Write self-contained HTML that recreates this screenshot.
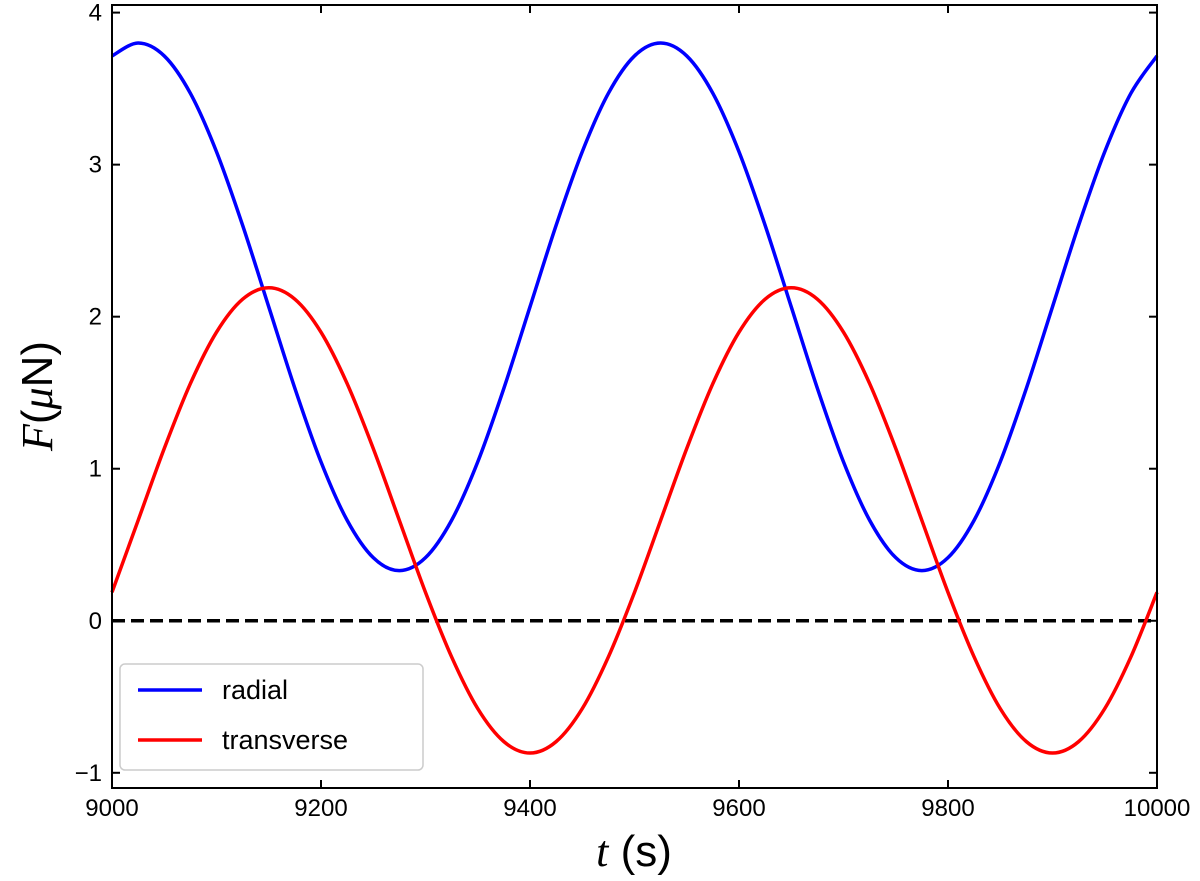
<!DOCTYPE html>
<html><head><meta charset="utf-8"><style>
body{margin:0;background:#fff;}
svg{display:block;font-family:"Liberation Sans","DejaVu Sans",sans-serif;}
</style></head><body>
<svg id="chart" width="1200" height="881" viewBox="0 0 1200 881">
<g id="plot"></g>
</svg>
<script>
const times = [9000,9025,9050,9075,9100,9125,9150,9175,9200,9225,9250,9275,9300,9325,9350,9375,9400,9425,9450,9475,9500,9525,9550,9575,9600,9625,9650,9675,9700,9725,9750,9775,9800,9825,9850,9875,9900,9925,9950,9975,10000];
const radial = [3.715,3.80,3.715,3.469,3.085,2.601,2.065,1.529,1.045,0.661,0.415,0.33,0.415,0.661,1.045,1.529,2.065,2.601,3.085,3.469,3.715,3.80,3.715,3.469,3.085,2.601,2.065,1.529,1.045,0.661,0.415,0.33,0.415,0.661,1.045,1.529,2.065,2.601,3.085,3.469,3.715];
const transverse = [0.187,0.66,1.133,1.56,1.898,2.115,2.19,2.115,1.898,1.56,1.133,0.66,0.187,-0.238,-0.578,-0.795,-0.87,-0.795,-0.578,-0.238,0.187,0.66,1.133,1.56,1.898,2.115,2.19,2.115,1.898,1.56,1.133,0.66,0.187,-0.238,-0.578,-0.795,-0.87,-0.795,-0.578,-0.238,0.187];
const xTicks = [9000,9200,9400,9600,9800,10000];
const yTicks = [-1,0,1,2,3,4];
const yTickLabels = ["\u22121","0","1","2","3","4"];

const L=112,R=1157,T=5,B=788;
const xMin=9000,xMax=10000,yMin=-1.1,yMax=4.05;
function xs(v){return L+(v-xMin)/(xMax-xMin)*(R-L);}
function ys(v){return B-(v-yMin)/(yMax-yMin)*(B-T);}
const NS="http://www.w3.org/2000/svg";
const g=document.getElementById('plot');
function mk(tag,attrs,parent){const e=document.createElementNS(NS,tag);for(const k in attrs)e.setAttribute(k,attrs[k]);(parent||g).appendChild(e);return e;}
function smoothPath(xv,yv){
  const p=xv.map((x,i)=>[xs(x),ys(yv[i])]);
  let d="M"+p[0][0]+","+p[0][1];
  for(let i=0;i<p.length-1;i++){
    const p0=p[Math.max(0,i-1)],p1=p[i],p2=p[i+1],p3=p[Math.min(p.length-1,i+2)];
    const c1=[p1[0]+(p2[0]-p0[0])/6,p1[1]+(p2[1]-p0[1])/6];
    const c2=[p2[0]-(p3[0]-p1[0])/6,p2[1]-(p3[1]-p1[1])/6];
    d+=" C"+c1[0]+","+c1[1]+" "+c2[0]+","+c2[1]+" "+p2[0]+","+p2[1];
  }
  return d;
}
const z=mk('line',{x1:L,x2:R,y1:ys(0),y2:ys(0),stroke:'#000','stroke-width':3.5,'stroke-dasharray':'13,6'});


const rp=mk('path',{d:smoothPath(times,radial),fill:'none',stroke:'#0000ff','stroke-width':3.5});


const tp=mk('path',{d:smoothPath(times,transverse),fill:'none',stroke:'#ff0000','stroke-width':3.5});


const fr=mk('rect',{x:L,y:T,width:R-L,height:B-T,fill:'none',stroke:'#000','stroke-width':2});


xTicks.forEach(v=>{
  const x=xs(v);
  mk('line',{x1:x,x2:x,y1:B,y2:B-8,stroke:'#000','stroke-width':2});
  mk('line',{x1:x,x2:x,y1:T,y2:T+8,stroke:'#000','stroke-width':2});
  const t=mk('text',{x:x,y:B+28,'text-anchor':'middle','font-size':24});
  t.textContent=v;
  
  
});
yTicks.forEach((v,i)=>{
  const y=ys(v);
  mk('line',{x1:L,x2:L+8,y1:y,y2:y,stroke:'#000','stroke-width':2});
  mk('line',{x1:R,x2:R-8,y1:y,y2:y,stroke:'#000','stroke-width':2});
  const t=mk('text',{x:L-10,y:y+8,'text-anchor':'end','font-size':24});
  t.textContent=yTickLabels[i];
  
  
});
const xt=mk('text',{x:634,y:866,'text-anchor':'middle','font-size':44});
xt.innerHTML='<tspan font-family="Liberation Serif,serif" font-style="italic">t</tspan> (s)';


const yt=mk('text',{x:0,y:0,'text-anchor':'middle','font-size':44,transform:'translate(52,396) rotate(-90)'});
yt.innerHTML='<tspan font-family="Liberation Serif,serif" font-style="italic">F</tspan>(<tspan font-family="Liberation Serif,serif" font-style="italic">μ</tspan>N)';


const lg=mk('g',{});


mk('rect',{x:120,y:664,width:303,height:106,rx:5,fill:'#fff','fill-opacity':0.85,stroke:'#ccc','stroke-width':1.5},lg);
[['radial','#0000ff',690],['transverse','#ff0000',740]].forEach(e=>{
  const le=mk('g',{},lg);
  
  
  mk('line',{x1:138,x2:202,y1:e[2],y2:e[2],stroke:e[1],'stroke-width':3.5},le);
  const t=mk('text',{x:222,y:e[2]+9,'font-size':27},le);
  t.textContent=e[0];
});
</script>
</body></html>
